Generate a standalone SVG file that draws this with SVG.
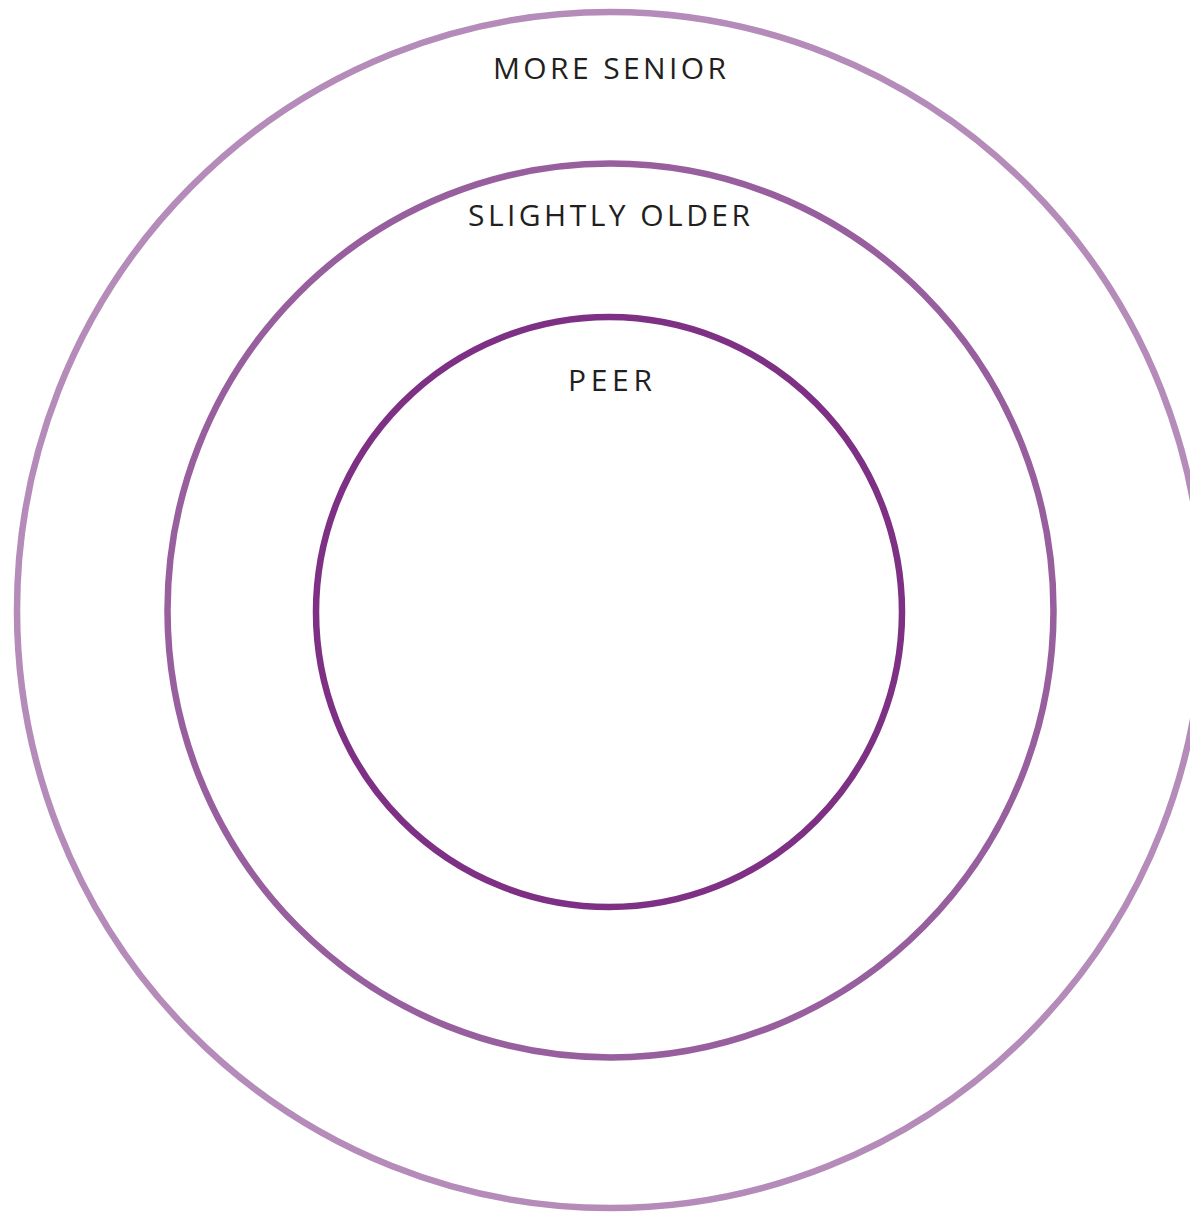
<svg xmlns="http://www.w3.org/2000/svg" width="1190" height="1212" viewBox="0 0 1190 1212">
<style>
.ring{fill:none;stroke-width:6.5}
.lbl{font-family:"Open Sans","Liberation Sans",sans-serif;font-weight:400;font-size:30px;fill:#231f20;text-anchor:middle}
</style>
<rect width="1190" height="1212" fill="#fff"/>
<g id="outer">
<ellipse class="ring" cx="610" cy="610" rx="593" ry="598" stroke="#b48bb9"/>
<text class="lbl" x="609.5" y="79" textLength="233" lengthAdjust="spacing">MORE SENIOR</text>
</g>
<g id="middle">
<ellipse class="ring" cx="610.5" cy="610.5" rx="443" ry="447" stroke="#985f9e"/>
<text class="lbl" x="609" y="226" textLength="282" lengthAdjust="spacing">SLIGHTLY OLDER</text>
</g>
<g id="inner">
<ellipse class="ring" cx="609" cy="612" rx="293" ry="295" stroke="#7e3085"/>
<text class="lbl" x="610" y="391" textLength="84" lengthAdjust="spacing">PEER</text>
</g>
<g id="connectors"/>
</svg>
